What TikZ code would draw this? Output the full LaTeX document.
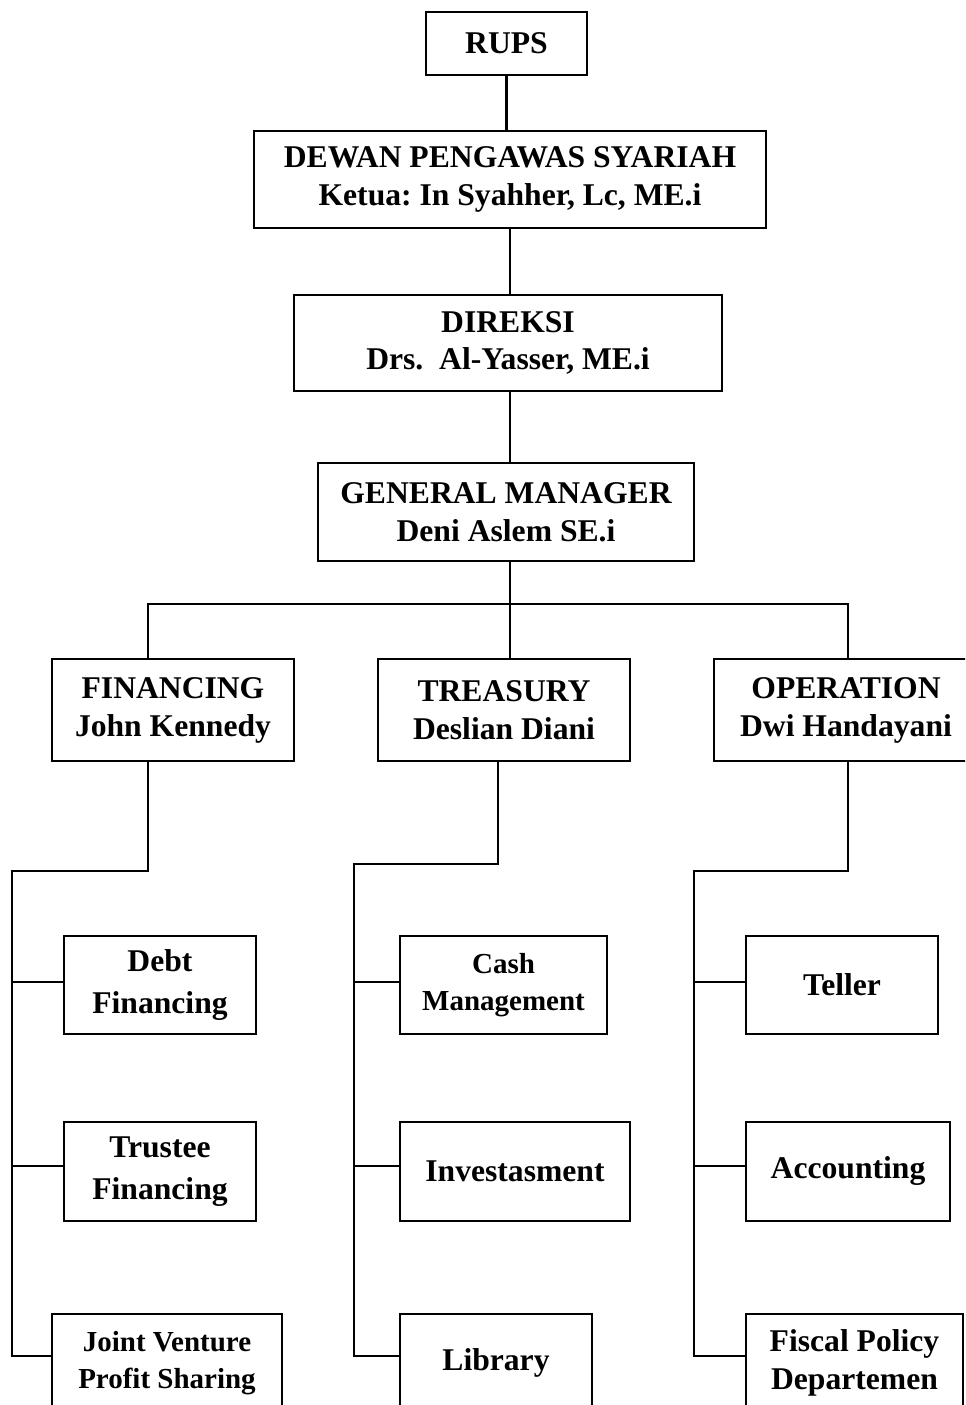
\documentclass[tikz,border=0pt]{standalone}
\usepackage{fontspec}
\setmainfont{Liberation Serif}
\usepackage{tikz}
\frenchspacing

\tikzset{
  orgbox/.style={draw, line width=1.2pt, align=center, inner sep=0pt,
    font=\bfseries\fontsize{18}{21.6}\selectfont},
  unitbox/.style={orgbox, font=\bfseries\fontsize{18}{23.9}\selectfont},
  smallbox/.style={orgbox, font=\bfseries\fontsize{16.5}{21.2}\selectfont},
  link/.style={line width=1.2pt},
}

\begin{document}
\begin{tikzpicture}[x=1cm,y=1cm]
\path[use as bounding box] (0,0) rectangle (19.30,28.10);
\clip (0,0) rectangle (19.30,28.10);
% top of the chart
\node[orgbox,minimum width=3.22cm,minimum height=1.26cm] (rups) at (10.13,27.23) {RUPS};
\node[orgbox,minimum width=10.24cm,minimum height=1.94cm] (dewan) at (10.20,24.51) {DEWAN PENGAWAS SYARIAH\\Ketua: In Syahher, Lc, ME.i};
\node[orgbox,minimum width=8.56cm,minimum height=1.92cm] (direksi) at (10.16,21.24) {DIREKSI\\Drs.\ \ Al-Yasser, ME.i};
\node[orgbox,minimum width=7.52cm,minimum height=1.96cm] (gm) at (10.12,17.86) {GENERAL MANAGER\\Deni Aslem SE.i};
% divisions
\node[orgbox,minimum width=4.84cm,minimum height=2.04cm] (fin) at (3.46,13.90) {FINANCING\\John Kennedy};
\node[orgbox,minimum width=5.04cm,minimum height=2.04cm] (tre) at (10.08,13.90) {TREASURY\\Deslian Diani};
\node[orgbox,minimum width=5.28cm,minimum height=2.04cm] (ope) at (16.92,13.90) {OPERATION\\Dwi Handayani};
% units
\node[unitbox,minimum width=3.84cm,minimum height=1.96cm] (debt) at (3.20,8.40) {Debt\\Financing};
\node[unitbox,minimum width=3.84cm,minimum height=1.98cm] (trustee) at (3.20,4.67) {Trustee\\Financing};
\node[smallbox,minimum width=4.60cm,minimum height=1.96cm] (joint) at (3.34,0.84) {Joint Venture\\Profit Sharing};
\node[smallbox,minimum width=4.14cm,minimum height=1.96cm] (cash) at (10.07,8.40) {Cash\\Management};
\node[orgbox,minimum width=4.60cm,minimum height=1.98cm] (invest) at (10.30,4.67) {Investasment};
\node[orgbox,minimum width=3.84cm,minimum height=1.96cm] (library) at (9.92,0.84) {Library};
\node[orgbox,minimum width=3.84cm,minimum height=1.96cm] (teller) at (16.84,8.40) {Teller};
\node[orgbox,minimum width=4.08cm,minimum height=1.98cm] (acc) at (16.96,4.67) {Accounting};
\node[orgbox,minimum width=4.34cm,minimum height=1.96cm] (fiscal) at (17.09,0.84) {Fiscal Policy\\Departemen};
% connectors
\coordinate (spine) at (10.20,16.02);
\coordinate (busL) at (2.96,16.02);
\coordinate (busR) at (16.96,16.02);
\draw[link] (rups.south) -- (rups.south |- dewan.north);
\draw[link] (dewan.south -| spine) -- (direksi.north -| spine);
\draw[link] (direksi.south -| spine) -- (gm.north -| spine);
\draw[link] (gm.south -| spine) -- (spine |- tre.north);
\draw[link] (fin.north -| busL) -- (busL) -- (busR) -- (ope.north -| busR);
\coordinate (row1) at (0,8.46);
\coordinate (row2) at (0,4.78);
\coordinate (row3) at (0,0.98);
\coordinate (finrail) at (0.24,10.68);
\coordinate (tredrop) at (9.96,10.82);
\coordinate (trerail) at (7.08,10.82);
\coordinate (operail) at (13.88,10.68);
\draw[link] (fin.south -| busL) |- (finrail) -- (finrail |- row3) -- (row3 -| joint.west);
\draw[link] (finrail |- row1) -- (row1 -| debt.west);
\draw[link] (finrail |- row2) -- (row2 -| trustee.west);
\draw[link] (tre.south -| tredrop) -- (tredrop) -- (trerail) -- (trerail |- row3) -- (row3 -| library.west);
\draw[link] (trerail |- row1) -- (row1 -| cash.west);
\draw[link] (trerail |- row2) -- (row2 -| invest.west);
\draw[link] (ope.south -| busR) |- (operail) -- (operail |- row3) -- (row3 -| fiscal.west);
\draw[link] (operail |- row1) -- (row1 -| teller.west);
\draw[link] (operail |- row2) -- (row2 -| acc.west);
\end{tikzpicture}
\end{document}
